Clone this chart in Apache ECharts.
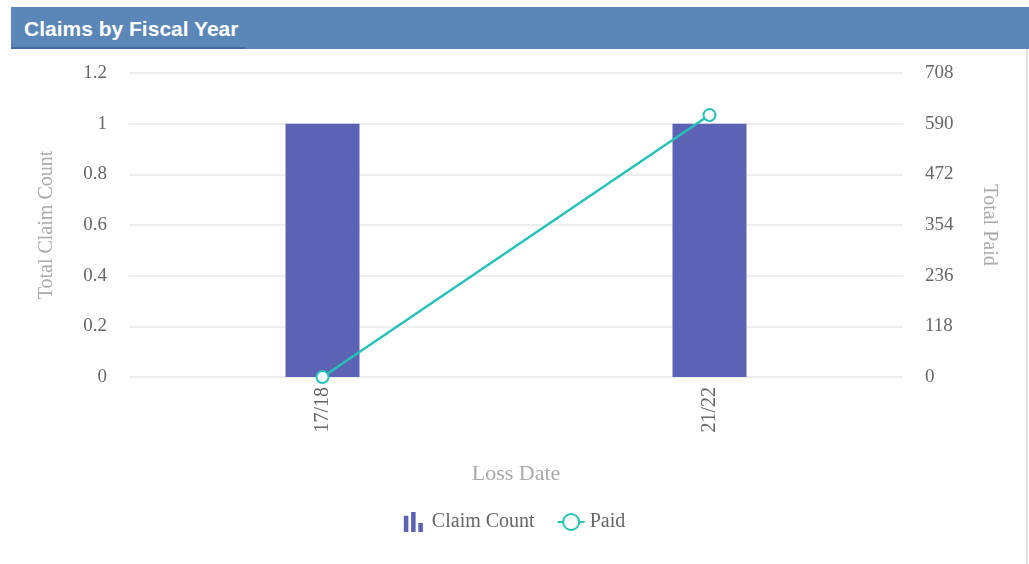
<!DOCTYPE html>
<html><head><meta charset="utf-8">
<script src="https://cdn.jsdelivr.net/npm/echarts@6/dist/echarts.min.js"></script>
<style>
html,body{margin:0;padding:0;background:#fff;width:1029px;height:564px;overflow:hidden;}
#hdr{position:absolute;left:11px;top:7px;width:1018px;height:42px;background:#5b87b8;}
#hdr span{position:absolute;left:13px;top:10px;color:#fff;font:bold 21px "Liberation Sans",Arial,sans-serif;}
#ul{position:absolute;left:11px;top:47px;width:234px;height:2px;background:#3f6d9e;}
#rb{position:absolute;left:1026px;top:49px;width:2px;height:515px;background:#e2e2e2;}
#c{position:absolute;left:0;top:0;width:1029px;height:564px;}
</style></head>
<body>
<div id="c"></div>
<div id="hdr"><span>Claims by Fiscal Year</span></div>
<div id="ul"></div>
<div id="rb"></div>
<script>
const categories = ['17/18', '21/22'];
const claimCount = [1, 1];
const paid = [0, 610];
const leftTicks = {min: 0, max: 1.2, interval: 0.2};
const rightTicks = {min: 0, max: 708, interval: 118};

const font = '"Liberation Serif","Times New Roman",serif';
const chart = echarts.init(document.getElementById('c'));
chart.setOption({
  animation: false,
  textStyle: {fontFamily: font},
  grid: {left: 129, right: 126, top: 73, bottom: 187},
  legend: {
    bottom: 27, left: 'center', itemGap: 22, itemWidth: 27, itemHeight: 20,
    textStyle: {fontFamily: font, fontSize: 20, color: '#666'},
    data: [
      {name: 'Claim Count', icon: 'path://M0,4H5V22H0Z M8,0H13V22H8Z M16,12H21V22H16Z', itemStyle:{color:'#5c63b4'}},
      {name: 'Paid'}
    ]
  },
  xAxis: {
    type: 'category', data: categories,
    name: 'Loss Date', nameLocation: 'middle', nameGap: 86,
    nameTextStyle: {fontFamily: font, fontSize: 22, color: '#aaa'},
    axisLine: {show: false}, axisTick: {show: false},
    axisLabel: {rotate: 90, fontFamily: font, fontSize: 20, color: '#666', margin: 10}
  },
  yAxis: [
    {
      type: 'value', min: leftTicks.min, max: leftTicks.max, interval: leftTicks.interval,
      name: 'Total Claim Count', nameLocation: 'middle', nameGap: 72, nameRotate: 90,
      nameTextStyle: {fontFamily: font, fontSize: 20, color: '#aaa'},
      axisLabel: {fontFamily: font, fontSize: 19, color: '#666', margin: 22},
      splitLine: {lineStyle: {color: '#eeeeee', width: 2}}
    },
    {
      type: 'value', min: rightTicks.min, max: rightTicks.max, interval: rightTicks.interval,
      name: 'Total Paid', nameLocation: 'middle', nameGap: 76, nameRotate: -90,
      nameTextStyle: {fontFamily: font, fontSize: 20, color: '#aaa'},
      axisLabel: {fontFamily: font, fontSize: 19, color: '#666', margin: 22},
      splitLine: {show: false}
    }
  ],
  series: [
    {
      name: 'Claim Count', type: 'bar', data: claimCount, yAxisIndex: 0,
      barWidth: 74, itemStyle: {color: '#5c63b4'}
    },
    {
      name: 'Paid', type: 'line', data: paid, yAxisIndex: 1,
      symbol: 'emptyCircle', symbolSize: 12,
      lineStyle: {color: '#26c1b9', width: 2.5},
      itemStyle: {color: '#26c1b9', borderWidth: 2}
    }
  ]
});
</script>
</body></html>
